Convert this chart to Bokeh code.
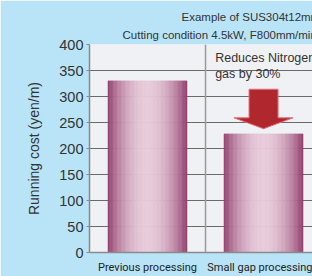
import numpy as np
from bokeh.plotting import figure
from bokeh.models import Range1d, FixedTicker, Span, Label, Title
from bokeh.embed import file_html
from bokeh.resources import INLINE

categories = ["Previous processing", "Small gap processing"]
running_cost = [330, 228]
y_ticks = [0, 50, 100, 150, 200, 250, 300, 350, 400]
title_lines = ["Example of SUS304t12mm", "Cutting condition 4.5kW, F800mm/min"]
note_lines = ["Reduces Nitrogen", "gas by 30%"]
arrow_from = 314
arrow_to = 238

BG = "#b9e4f8"
FRAME = "#f0f1f4"
DARK = np.array([143, 58, 104])
LIGHT = np.array([231, 203, 218])

xpos = [i + 0.5 for i in range(len(categories))]

p = figure(width=312, height=276, output_backend="svg", toolbar_location=None,
           x_range=Range1d(0, 1.922), y_range=Range1d(0, 400),
           min_border_left=89, min_border_top=44, min_border_right=0,
           min_border_bottom=17)
p.title.visible = False
p.background_fill_color = FRAME
p.border_fill_color = BG
p.outline_line_color = None

# title lines, placed above the frame
for txt, off, sb in zip(reversed(title_lines), [33, 92], [8, 0]):
    p.add_layout(Title(text=txt, align="left", offset=off, standoff=sb,
                       text_font="Liberation Sans", text_font_size="11.5px",
                       text_font_style="normal", text_color="#333333"), "above")

# gridlines
p.xgrid.visible = False
p.ygrid.grid_line_color = "#6a6a6a"
p.ygrid.grid_line_width = 1
p.yaxis.ticker = FixedTicker(ticks=y_ticks)
p.xaxis.ticker = FixedTicker(ticks=xpos)
p.xaxis.major_label_overrides = {x: c for x, c in zip(xpos, categories)}

# separator between categories
p.add_layout(Span(location=1.0, dimension="height", line_color="#9a9a9a", line_width=1.5))

# gradient bars
bar_w = 0.68
n = 60
for xc, v in zip(xpos, running_cost):
    edges = np.linspace(xc - bar_w / 2, xc + bar_w / 2, n + 1)
    centers = (edges[:-1] + edges[1:]) / 2
    t = (centers - edges[0]) / bar_w
    f = np.sin(np.pi * t) ** 0.8
    cols = []
    for fi in f:
        c = DARK + (LIGHT - DARK) * fi
        cols.append("#%02x%02x%02x" % tuple(int(round(k)) for k in c))
    p.vbar(x=centers, top=[v] * n, width=bar_w / n, bottom=0,
           fill_color=cols, line_color=cols, line_width=0.6)

# arrow
cx = xpos[1]
sw, hw = 0.125, 0.255
head_base = arrow_to + 21
ax = [cx - sw, cx + sw, cx + sw, cx + hw, cx, cx - hw, cx - sw]
ay = [arrow_from, arrow_from, head_base, head_base, arrow_to, head_base, head_base]
p.patch(ax, ay, fill_color="#b1272e", line_color="#e3707c", line_width=1)

# note text
for txt, yy in zip(note_lines, [361, 329]):
    p.add_layout(Label(x=1.083, y=yy, text=txt, text_font="Liberation Sans",
                       text_font_size="12.5px", text_color="#333333"))

# axes
p.yaxis.axis_label = "Running cost (yen/m)"
p.yaxis.axis_label_text_font = "Liberation Sans"
p.yaxis.axis_label_text_font_style = "normal"
p.yaxis.axis_label_text_font_size = "14px"
p.yaxis.axis_label_text_color = "#333333"
p.yaxis.axis_label_standoff = 14
p.yaxis.major_label_text_font = "Liberation Sans"
p.yaxis.major_label_text_font_size = "14.5px"
p.yaxis.major_label_text_color = "#333333"
p.yaxis.major_label_standoff = 3
p.yaxis.axis_line_color = "#8a8a8a"
p.yaxis.axis_line_width = 1.5
p.yaxis.major_tick_line_color = "#8a8a8a"
p.yaxis.major_tick_out = 3
p.yaxis.major_tick_in = 0
p.yaxis.minor_tick_line_color = None

p.xaxis.axis_line_color = "#8a8a8a"
p.xaxis.axis_line_width = 1.5
p.xaxis.major_tick_line_color = None
p.xaxis.minor_tick_line_color = None
p.xaxis.major_label_standoff = 2
p.xaxis.major_label_text_font = "Roboto"
p.xaxis.major_label_text_font_size = "11px"
p.xaxis.major_label_text_color = "#222222"

open("out.html", "w").write(file_html(p, INLINE))
